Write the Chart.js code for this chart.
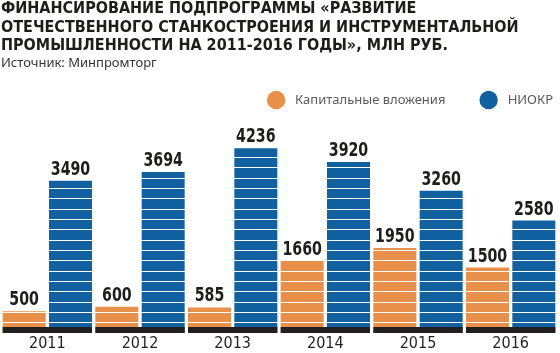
<!DOCTYPE html>
<html><head><meta charset="utf-8">
<script src="https://cdn.jsdelivr.net/npm/chart.js@4/dist/chart.umd.min.js"></script>
<style>html,body{margin:0;padding:0;background:#fff;overflow:hidden}</style>
</head><body>
<canvas id="c" width="560" height="353"></canvas>
<script>
const titleLines = ['ФИНАНСИРОВАНИЕ ПОДПРОГРАММЫ «РАЗВИТИЕ', 'ОТЕЧЕСТВЕННОГО СТАНКОСТРОЕНИЯ И ИНСТРУМЕНТАЛЬНОЙ', 'ПРОМЫШЛЕННОСТИ НА 2011-2016 ГОДЫ», МЛН РУБ.'];
const sourceNote = 'Источник: Минпромторг';
const years = ['2011', '2012', '2013', '2014', '2015', '2016'];
const capitalInvestment = [500, 600, 585, 1660, 1950, 1500];
const researchDev = [3490, 3694, 4236, 3920, 3260, 2580];
const seriesNames = ['Капитальные вложения', 'НИОКР'];
const seriesColors = ['#e8904a', '#1160a0'];

const NARROW = '"DejaVu Sans Condensed", "DejaVu Sans", sans-serif';

const decor = {
  id: 'decor',
  afterDraw(chart) {
    const ctx = chart.ctx;
    const area = chart.chartArea;
    const m0 = chart.getDatasetMeta(0), m1 = chart.getDatasetMeta(1);
    ctx.save();
    // dark base band under each year group
    ctx.fillStyle = '#231f20';
    m0.data.forEach((b, i) => {
      const b1 = m1.data[i];
      const l = b.x - b.width / 2, r = b1.x + b1.width / 2;
      ctx.fillRect(l, area.bottom - 6, r - l, 6);
    });
    // value labels (condensed horizontally)
    ctx.font = 'bold 19px ' + NARROW;
    ctx.fillStyle = '#1d1d1b';
    ctx.textAlign = 'center';
    ctx.textBaseline = 'alphabetic';
    chart.data.datasets.forEach((ds, di) => {
      chart.getDatasetMeta(di).data.forEach((b, i) => {
        ctx.save();
        ctx.translate(b.x, b.y - 6);
        ctx.scale(0.83, 1);
        ctx.fillText(String(ds.data[i]), 0, 0);
        ctx.restore();
      });
    });
    // legend
    ctx.font = '13px "Noto Sans", sans-serif';
    ctx.textAlign = 'left';
    ctx.textBaseline = 'middle';
    const cy = 100, r = 9.2;
    let right = 553;
    for (let i = seriesNames.length - 1; i >= 0; i--) {
      const w = ctx.measureText(seriesNames[i]).width;
      const tx = right - w;
      const cx = tx - 19;
      ctx.fillStyle = '#5b5b5b';
      ctx.fillText(seriesNames[i], tx, cy);
      ctx.beginPath();
      ctx.arc(cx, cy, r, 0, Math.PI * 2);
      ctx.fillStyle = seriesColors[i];
      ctx.fill();
      right = cx - r - 34;
    }
    ctx.restore();
  }
};

new Chart(document.getElementById('c'), {
  type: 'bar',
  data: {
    labels: years,
    datasets: [
      { label: seriesNames[0], data: capitalInvestment, backgroundColor: seriesColors[0] },
      { label: seriesNames[1], data: researchDev, backgroundColor: seriesColors[1] }
    ]
  },
  options: {
    responsive: false,
    animation: false,
    devicePixelRatio: 1,
    categoryPercentage: 1.0,
    barPercentage: 0.928,
    layout: { padding: { left: 1, right: 3, top: 0, bottom: 0 } },
    plugins: {
      legend: { display: false },
      tooltip: { enabled: false },
      title: {
        display: true, text: titleLines, align: 'start', color: '#1d1d1b',
        font: { family: NARROW, size: 16, weight: 'bold', lineHeight: 1.15 },
        padding: { top: 0, bottom: 0 }
      },
      subtitle: {
        display: true, text: sourceNote, align: 'start', color: '#333333',
        font: { family: '"Noto Sans", sans-serif', size: 13, lineHeight: 1.2 },
        padding: { top: 0, bottom: 66 }
      }
    },
    scales: {
      x: {
        grid: { display: false, drawTicks: false },
        border: { display: false },
        ticks: { color: '#231f20', padding: 3, font: { family: NARROW, size: 16, lineHeight: 1.0 } },
        afterFit(scale) { scale.height = 20; }
      },
      y: {
        min: 0, max: 4500,
        ticks: { display: false, stepSize: 235, maxTicksLimit: 100 },
        grid: { color: '#ffffff', lineWidth: 1, z: 1, drawTicks: false },
        border: { display: false }
      }
    }
  },
  plugins: [decor]
});
</script>
</body></html>
